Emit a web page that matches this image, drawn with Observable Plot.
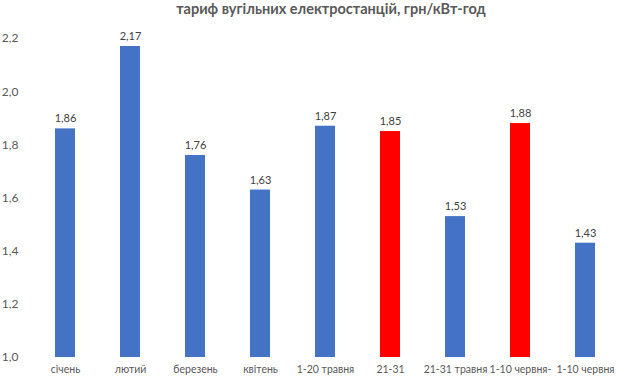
<!DOCTYPE html>
<html><head><meta charset="utf-8">
<script src="https://cdn.jsdelivr.net/npm/d3@7"></script>
<script src="https://cdn.jsdelivr.net/npm/@observablehq/plot@0.6"></script>
<style>
body{margin:0;background:#fff;font-family:Lato,"Open Sans",sans-serif;}
#title{height:16px;line-height:17px;text-align:center;font-weight:bold;font-size:14.5px;color:#595959;width:662px;margin:0;white-space:nowrap;overflow:visible;}
</style></head><body>
<div id="title">тариф вугільних електростанцій, грн/кВт-год</div>
<div id="chart"></div>
<script>
const categories = ["січень","лютий","березень","квітень","1-20 травня","21-31","21-31 травня","1-10 червня-","1-10 червня"];
const values = [1.86, 2.17, 1.76, 1.63, 1.87, 1.85, 1.53, 1.88, 1.43];
const colors = ["#4472C4","#4472C4","#4472C4","#4472C4","#4472C4","#FF0000","#4472C4","#FF0000","#4472C4"];
const yTicks = [1.0, 1.2, 1.4, 1.6, 1.8, 2.0, 2.2];
const data = categories.map((c, i) => ({cat: c, value: values[i], color: colors[i]}));
const fmt = d => d.toFixed(2).replace(".", ",");
const fmtTick = d => d.toFixed(1).replace(".", ",");
const chart = Plot.plot({
  width: 620, height: 364,
  marginTop: 22, marginBottom: 23, marginLeft: 30, marginRight: 0,
  style: {fontFamily: "Lato, 'Open Sans', sans-serif", fontSize: "10.5px", color: "#595959", background: "#fff"},
  x: {domain: categories, paddingInner: 0.69, paddingOuter: 0.345, align: 0.5, label: null},
  y: {domain: [1.0, 2.2], label: null},
  marks: [
    Plot.gridY(yTicks, {stroke: "#d9d9d9", strokeOpacity: 1, x1: -2}),
    Plot.barY(data, {x: "cat", y1: 1.0, y2: "value", fill: "color"}),
    Plot.text(data, {x: "cat", y: "value", text: d => fmt(d.value), dy: -10, fill: "#404040", fontSize: 11}),
    Plot.axisX({tickSize: 0, tickPadding: 8, fontSize: 10.5, label: null, fill: "#595959"}),
    Plot.axisY({ticks: yTicks, tickFormat: fmtTick, tickSize: 0, tickPadding: 12, fontSize: 12, label: null, fill: "#595959"})
  ]
});
document.getElementById("chart").appendChild(chart);
</script></body></html>
